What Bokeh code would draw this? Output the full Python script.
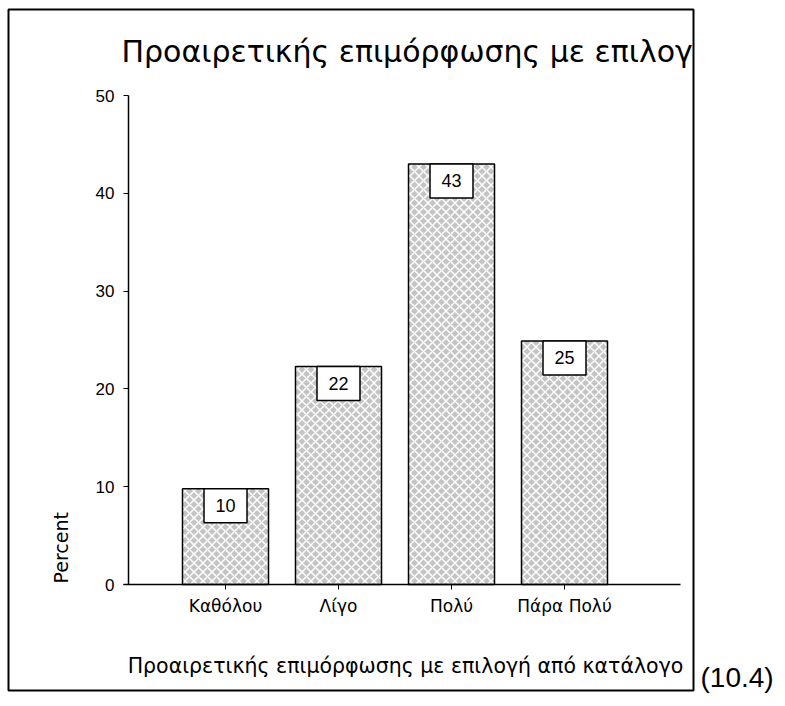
import math
from bokeh.plotting import figure
from bokeh.models import Range1d, FixedTicker, Label, BoxAnnotation, ColumnDataSource
from bokeh.embed import file_html
from bokeh.resources import INLINE
from bokeh.core.properties import value

# ---- data ----
categories = ["Καθόλου", "Λίγο", "Πολύ", "Πάρα Πολύ"]
percent = [9.8, 22.3, 43.0, 24.9]
bar_labels = ["10", "22", "43", "25"]
y_ticks = [0, 10, 20, 30, 40, 50]
title_text = "Προαιρετικής επιμόρφωσης με επιλογ"
x_title = "Προαιρετικής επιμόρφωσης με επιλογή από κατάλογο"
y_title = "Percent"
note_text = "(10.4)"

# ---- layout (canvas pixels) ----
W, H = 777, 698
CAT1_PX, STEP_PX = 225, 113      # pixel centre of first category, spacing
Y0_PX, Y50_PX = 584, 95           # pixel rows of 0 % and 50 %
px_per_y = (Y0_PX - Y50_PX) / 50


def dx(px):
    return 1 + (px - CAT1_PX) / STEP_PX


def dy(py):
    return (Y0_PX - py) / px_per_y


BAR_W = 86 / STEP_PX
BOX_W = 43 / STEP_PX
BOX_H = 34 / px_per_y

xs = [i + 1 for i in range(len(categories))]

p = figure(width=W, height=H, output_backend="svg", toolbar_location=None,
           x_range=Range1d(dx(0), dx(W)), y_range=Range1d(dy(H), dy(0)),
           min_border=0)
p.background_fill_color = "white"
p.border_fill_color = "white"
p.outline_line_color = None
p.grid.visible = False

src = ColumnDataSource(dict(
    x=xs, top=percent, lab=bar_labels,
    bl=[x - BOX_W / 2 for x in xs], br=[x + BOX_W / 2 for x in xs],
    bb=[v - BOX_H for v in percent], ty=[v - BOX_H / 2 for v in percent],
))

p.vbar(x="x", top="top", bottom=0, width=BAR_W, source=src,
       fill_color="#c4c4c4", line_color="black", line_width=1.5,
       hatch_pattern="diagonal_cross", hatch_color="white",
       hatch_scale=9, hatch_weight=1.5)
p.quad(left="bl", right="br", bottom="bb", top="top", source=src,
       fill_color="white", line_color="black", line_width=1.5)
p.text(x="x", y="ty", text="lab", source=src, text_align="center",
       text_baseline="middle", text_font=value("Liberation Sans"),
       text_font_size="18px", text_color="black")

# y axis (drawn at a fixed location inside the frame)
ya = p.yaxis[0]
ya.fixed_location = dx(128)
ya.bounds = (0, 50)
ya.ticker = FixedTicker(ticks=y_ticks)
ya.major_tick_out = 5
ya.major_tick_in = 0
ya.minor_tick_out = 0
ya.minor_tick_in = 0
ya.major_label_standoff = 9
ya.major_label_text_font = "Liberation Sans"
ya.major_label_text_font_size = "17px"
ya.major_label_text_color = "black"
ya.axis_line_color = "black"
ya.axis_line_width = 1.5

# x axis
xa = p.xaxis[0]
xa.fixed_location = 0
xa.bounds = (dx(123), dx(680))
xa.ticker = FixedTicker(ticks=xs)
xa.major_label_overrides = {x: c for x, c in zip(xs, categories)}
xa.major_tick_out = 5
xa.major_tick_in = 0
xa.minor_tick_out = 0
xa.minor_tick_in = 0
xa.major_label_standoff = 6
xa.major_label_text_font = "DejaVu Sans"
xa.major_label_text_font_size = "17px"
xa.major_label_text_color = "black"
xa.axis_line_color = "black"
xa.axis_line_width = 1.5

# outer box
p.add_layout(BoxAnnotation(left=dx(8), right=dx(693), top=dy(9), bottom=dy(690),
                           fill_color=None, fill_alpha=0, line_color="black",
                           line_width=2, line_alpha=1))

p.add_layout(Label(x=dx(121), y=dy(51), text=title_text,
                   text_font="DejaVu Sans", text_font_size="30px",
                   text_color="black", text_align="left", text_baseline="alphabetic"))
p.add_layout(Label(x=dx(405), y=dy(665), text=x_title,
                   text_font="DejaVu Sans", text_font_size="20.5px",
                   text_color="black", text_align="center", text_baseline="alphabetic"))
p.add_layout(Label(x=dx(60), y=dy(583), text=y_title, angle=math.pi / 2,
                   text_font="DejaVu Sans", text_font_size="19px", text_color="black",
                   text_align="left", text_baseline="alphabetic"))
p.add_layout(Label(x=dx(700), y=dy(677), text=note_text,
                   text_font="Liberation Sans", text_font_size="28px",
                   text_color="black", text_align="left", text_baseline="alphabetic"))

open("out.html", "w").write(file_html(p, INLINE))
